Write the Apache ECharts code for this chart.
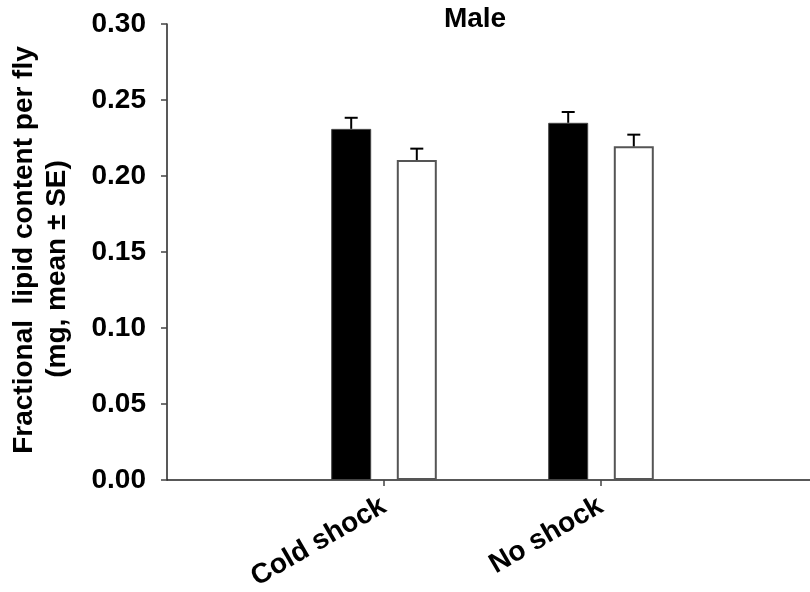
<!DOCTYPE html>
<html>
<head>
<meta charset="utf-8">
<script src="https://cdn.jsdelivr.net/npm/echarts@6/dist/echarts.min.js"></script>
<style>
  html, body { margin: 0; padding: 0; background: #fff; }
  #chart { width: 810px; height: 592px; }
</style>
</head>
<body>
<div id="chart"></div>
<script>
// Treatment groups and their positions on the x scale
const categories = ['Cold shock', 'No shock'];
const categoryPos = [1, 2];

// Fractional lipid content per fly (mg), mean and standard error
const blackMeans = [0.231, 0.235];
const blackSE = [0.0073, 0.0071];
const whiteMeans = [0.2105, 0.2195];
const whiteSE = [0.0075, 0.0077];

// Y axis ticks
const yMin = 0, yMax = 0.30, yStep = 0.05;

const FONT = "'Liberation Sans', Arial, sans-serif";
const FS = 28;
const BAR_W = 40;
const BAR_GAP = 25.6;

const chart = echarts.init(document.getElementById('chart'), null, { renderer: 'canvas' });

function barData(means) {
  return means.map((m, i) => [categoryPos[i], m]);
}
function errData(means, se) {
  return means.map((m, i) => [categoryPos[i], m, se[i]]);
}

// Error bar (stem + cap) drawn above the bar, shifted to that bar's slot in the group
function errorRenderer(shift) {
  return function (params, api) {
    const x = api.value(0);
    const top = api.coord([x, api.value(1) + api.value(2)]);
    const base = api.coord([x, api.value(1)]);
    const cx = top[0] + shift;
    const half = 6.5;
    const style = { stroke: '#000', lineWidth: 2 };
    return {
      type: 'group',
      children: [
        { type: 'line', shape: { x1: cx, y1: base[1], x2: cx, y2: top[1] }, style },
        { type: 'line', shape: { x1: cx - half, y1: top[1], x2: cx + half, y2: top[1] }, style }
      ]
    };
  };
}

const offset = (BAR_W + BAR_GAP) / 2;

chart.setOption({
  animation: false,
  backgroundColor: '#fff',
  grid: { left: 167, width: 651, top: 24, bottom: 112, containLabel: false, outerBoundsMode: 'none' },
  xAxis: {
    type: 'value',
    min: 0,
    max: 3,
    interval: 1,
    splitLine: { show: false },
    axisLine: { show: true, onZero: false, lineStyle: { color: '#222', width: 1.5 } },
    axisTick: { show: true, length: 6, customValues: categoryPos, lineStyle: { color: '#444', width: 1.5 } },
    axisLabel: {
      customValues: categoryPos,
      rotate: 30,
      margin: 24,
      fontFamily: FONT,
      fontWeight: 'bold',
      fontSize: FS,
      color: '#000',
      formatter: v => {
        const i = categoryPos.indexOf(v);
        return i >= 0 ? categories[i] : '';
      }
    }
  },
  yAxis: {
    type: 'value',
    min: yMin,
    max: yMax,
    interval: yStep,
    splitLine: { show: false },
    axisLine: { show: true, lineStyle: { color: '#222', width: 1.5 } },
    axisTick: { show: true, length: 6, lineStyle: { color: '#444', width: 1.5 } },
    axisLabel: {
      margin: 21,
      fontFamily: FONT,
      fontWeight: 'bold',
      fontSize: FS,
      color: '#000',
      formatter: v => v.toFixed(2)
    }
  },
  graphic: [
    {
      type: 'text', x: 475, y: 19,
      style: { text: 'Male', font: `bold ${FS}px ${FONT}`, fill: '#000', textAlign: 'center', textVerticalAlign: 'middle' }
    },
    {
      type: 'text', x: 24, y: 250, rotation: Math.PI / 2,
      style: { text: 'Fractional  lipid content per fly', font: `bold ${FS}px ${FONT}`, fill: '#000', textAlign: 'center', textVerticalAlign: 'middle' }
    },
    {
      type: 'text', x: 57.5, y: 269, rotation: Math.PI / 2,
      style: { text: '(mg, mean \u00b1 SE)', font: `bold ${FS}px ${FONT}`, fill: '#000', textAlign: 'center', textVerticalAlign: 'middle' }
    }
  ],
  series: [
    {
      type: 'bar',
      data: barData(blackMeans),
      barWidth: BAR_W,
      barGap: (BAR_GAP / BAR_W * 100) + '%',
      itemStyle: { color: '#000', borderColor: '#444', borderWidth: 1 }
    },
    {
      type: 'bar',
      data: barData(whiteMeans),
      barWidth: BAR_W,
      barGap: (BAR_GAP / BAR_W * 100) + '%',
      itemStyle: { color: '#fff', borderColor: '#555', borderWidth: 2 }
    },
    {
      type: 'custom',
      renderItem: errorRenderer(-offset),
      data: errData(blackMeans, blackSE),
      z: 3
    },
    {
      type: 'custom',
      renderItem: errorRenderer(offset),
      data: errData(whiteMeans, whiteSE),
      z: 3
    }
  ]
});
</script>
</body>
</html>
